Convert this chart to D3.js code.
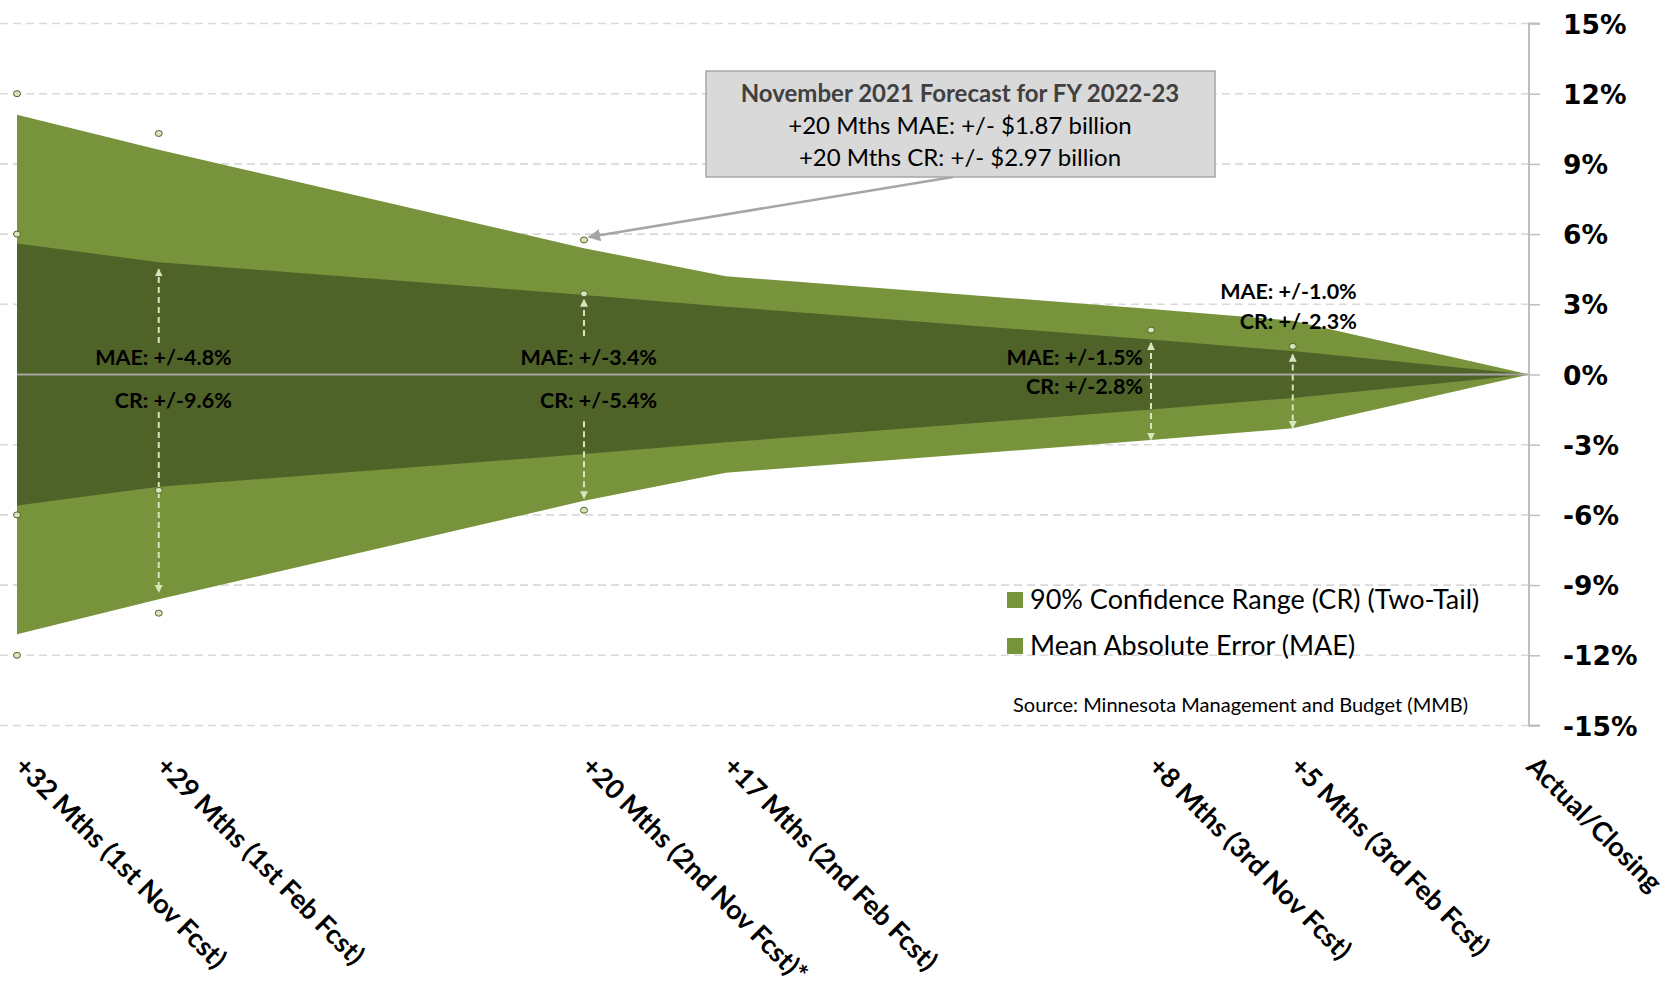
<!DOCTYPE html>
<html>
<head>
<meta charset="utf-8">
<script src="https://cdn.jsdelivr.net/npm/d3@7"></script>
<style>
  html, body { margin: 0; padding: 0; background: #ffffff; }
  svg { display: block; }
</style>
</head>
<body>
<svg id="chart" width="1673" height="981"></svg>
<script>
// ---- data ----
const categories = ["+32 Mths (1st Nov Fcst)", "+29 Mths (1st Feb Fcst)", "+20 Mths (2nd Nov Fcst)*",
  "+17 Mths (2nd Feb Fcst)", "+8 Mths (3rd Nov Fcst)", "+5 Mths (3rd Feb Fcst)", "Actual/Closing"];
const months = [32, 29, 20, 17, 8, 5, 0];
const crValues = [11.1, 9.6, 5.4, 4.2, 2.8, 2.3, 0];   // 90% Confidence Range (two-tail), +/-
const maeValues = [5.6, 4.8, 3.4, 2.9, 1.5, 1.0, 0];   // Mean Absolute Error, +/-
const yTicks = [15, 12, 9, 6, 3, 0, -3, -6, -9, -12, -15];
const seriesNames = ["90% Confidence Range (CR) (Two-Tail)", "Mean Absolute Error (MAE)"];

// point labels
const labelMonths = [29, 20, 8, 5];
const labelMAE = ["MAE: +/-4.8%", "MAE: +/-3.4%", "MAE: +/-1.5%", "MAE: +/-1.0%"];
const labelCR = ["CR: +/-9.6%", "CR: +/-5.4%", "CR: +/-2.8%", "CR: +/-2.3%"];

// stray marker points (hidden helper series in the source)
const markerMonths = [32, 32, 32, 32, 29, 29, 29, 20, 20, 20, 8, 5];
const markerValues = [12, 6, -6, -12, 10.3, -10.2, -4.95, 5.75, 3.45, -5.8, 1.9, 1.2];

// dashed arrows: month, from, to, arrowhead at start?, arrowhead at end
const arrowMonths = [29, 29, 20, 20, 8, 5];
const arrowFrom = [1.35, -1.6, 1.65, -2.0, 1.35, 0.85];
const arrowTo = [4.5, -9.3, 3.2, -5.3, -2.8, -2.3];
const arrowBoth = [false, false, false, false, true, true];

const noteLines = ["November 2021 Forecast for FY 2022-23", "+20 Mths MAE: +/- $1.87 billion", "+20 Mths CR: +/- $2.97 billion"];
const noteMonth = 20, noteValue = 5.75;
const sourceText = "Source: Minnesota Management and Budget (MMB)";

// ---- drawing ----
const svg = d3.select("#chart");
const x = d3.scaleLinear().domain([32, 0]).range([17, 1529]);
const y = d3.scaleLinear().domain([-15, 15]).range([725.5, 23.5]);

const LIGHT = "#77933c", DARK = "#4f6228", PALE = "#d7e4bd";
const FONT = "Lato, 'Open Sans', sans-serif";

const defs = svg.append("defs");
defs.append("marker").attr("id", "ah").attr("viewBox", "0 0 10 10").attr("refX", 9).attr("refY", 5)
  .attr("markerWidth", 4).attr("markerHeight", 4).attr("orient", "auto-start-reverse")
  .append("path").attr("d", "M0,0 L10,5 L0,10 z").attr("fill", PALE);
defs.append("marker").attr("id", "ahg").attr("viewBox", "0 0 10 10").attr("refX", 9).attr("refY", 5)
  .attr("markerWidth", 5).attr("markerHeight", 5).attr("orient", "auto")
  .append("path").attr("d", "M0,0 L10,5 L0,10 z").attr("fill", "#a6a6a6");

// gridlines
svg.append("g").selectAll("line").data(yTicks.filter(d => d !== 0)).join("line")
  .attr("x1", 0).attr("x2", 1529).attr("y1", d => y(d)).attr("y2", d => y(d))
  .attr("stroke", "#d9d9d9").attr("stroke-width", 1.6).attr("stroke-dasharray", "8,5");

const rows = months.map((m, i) => ({ m, cr: crValues[i], mae: maeValues[i] }));
const crArea = d3.area().x(d => x(d.m)).y0(d => y(-d.cr)).y1(d => y(d.cr));
const maeArea = d3.area().x(d => x(d.m)).y0(d => y(-d.mae)).y1(d => y(d.mae));
svg.append("path").datum(rows).attr("d", crArea).attr("fill", LIGHT);
svg.append("path").datum(rows).attr("d", maeArea).attr("fill", DARK);

// zero line
svg.append("line").attr("x1", x(32)).attr("x2", 1529).attr("y1", y(0)).attr("y2", y(0))
  .attr("stroke", "#a6a6a6").attr("stroke-width", 2);

// y axis on the right
const yAxis = d3.axisRight(y).tickValues(yTicks).tickSize(11).tickFormat(d => d + "%");
const ga = svg.append("g").attr("transform", "translate(1529,0)").call(yAxis);
ga.select(".domain").attr("stroke", "#bfbfbf").attr("stroke-width", 2).attr("d", `M11,${y(15)}H0V${y(-15)}H11`);
ga.selectAll(".tick line").attr("stroke", "#bfbfbf").attr("stroke-width", 1.5);
ga.selectAll(".tick text").attr("x", 34).attr("dy", "0.36em").attr("fill", "#000")
  .style("font-family", "'DejaVu Sans', Verdana, sans-serif").style("font-weight", "bold").style("font-size", "26.5px");

// x labels (rotated)
svg.append("g").selectAll("text").data(categories).join("text")
  .attr("transform", (d, i) => `translate(${x(months[i]) - 4},768) rotate(45)`)
  .attr("text-anchor", "start").attr("fill", "#000")
  .style("font-family", FONT).style("font-weight", "bold").style("font-size", "27px")
  .text(d => d);

// dashed arrows
svg.append("g").selectAll("line").data(arrowMonths).join("line")
  .attr("x1", d => x(d)).attr("x2", d => x(d))
  .attr("y1", (d, i) => y(arrowFrom[i])).attr("y2", (d, i) => y(arrowTo[i]))
  .attr("stroke", PALE).attr("stroke-width", 2).attr("stroke-dasharray", "6,4")
  .attr("marker-end", "url(#ah)")
  .attr("marker-start", (d, i) => arrowBoth[i] ? "url(#ah)" : null);

// markers
svg.append("g").selectAll("ellipse").data(markerMonths).join("ellipse")
  .attr("cx", d => x(d)).attr("cy", (d, i) => y(markerValues[i]))
  .attr("rx", 3.5).attr("ry", 3)
  .attr("fill", PALE).attr("stroke", DARK).attr("stroke-width", 1);

// point labels
const lblPos = [
  { dx: 73, maeY: 357, crY: 400 },
  { dx: 73, maeY: 357, crY: 400 },
  { dx: -8, maeY: 357, crY: 386 },
  { dx: 64, maeY: 291, crY: 321 }
];
const gl = svg.append("g").style("font-family", FONT).style("font-weight", "bold").style("font-size", "21.5px")
  .attr("fill", "#000").attr("text-anchor", "end");
labelMonths.forEach((m, i) => {
  gl.append("text").attr("x", x(m) + lblPos[i].dx).attr("y", lblPos[i].maeY).attr("dy", "0.35em").text(labelMAE[i]);
  gl.append("text").attr("x", x(m) + lblPos[i].dx).attr("y", lblPos[i].crY).attr("dy", "0.35em").text(labelCR[i]);
});

// annotation box + arrow
svg.append("line").attr("x1", 953).attr("y1", 177).attr("x2", x(noteMonth) + 5).attr("y2", y(noteValue) - 3)
  .attr("stroke", "#a6a6a6").attr("stroke-width", 2.5).attr("marker-end", "url(#ahg)");
svg.append("rect").attr("x", 706).attr("y", 71).attr("width", 509).attr("height", 106)
  .attr("fill", "#d9d9d9").attr("stroke", "#a6a6a6").attr("stroke-width", 1.5);
const nt = svg.append("g").style("font-family", FONT).style("font-size", "24px").attr("text-anchor", "middle");
noteLines.forEach((t, i) => {
  nt.append("text").attr("x", 960).attr("y", 94 + i * 32).attr("dy", "0.35em")
    .attr("fill", i === 0 ? "#404040" : "#000")
    .style("font-weight", i === 0 ? "bold" : "normal").text(t);
});

// legend
const lg = svg.append("g");
seriesNames.forEach((s, i) => {
  const yy = 600 + i * 46;
  lg.append("rect").attr("x", 1007).attr("y", yy - 8).attr("width", 16).attr("height", 16).attr("fill", LIGHT);
  lg.append("text").attr("x", 1030).attr("y", yy).attr("dy", "0.35em").attr("fill", "#000")
    .style("font-family", FONT).style("font-size", "27px").text(s);
});

// source
svg.append("text").attr("x", 1013).attr("y", 705).attr("dy", "0.35em").attr("fill", "#000")
  .style("font-family", FONT).style("font-size", "20px").text(sourceText);
</script>
</body>
</html>
